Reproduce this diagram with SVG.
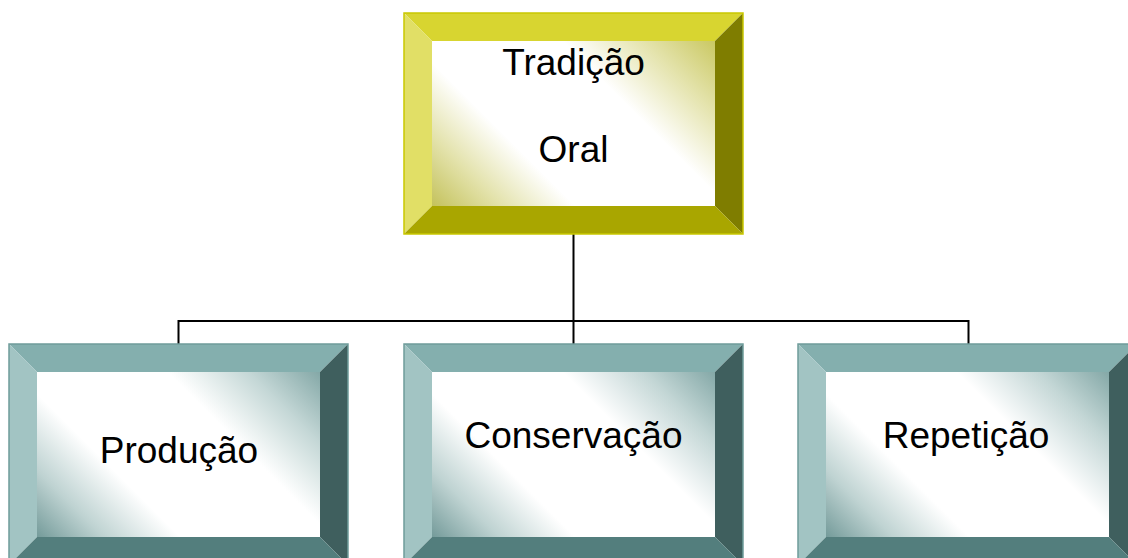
<svg xmlns="http://www.w3.org/2000/svg" width="1128" height="558" viewBox="0 0 1128 558">
<style>
.lbl{font-family:"Liberation Sans",Arial,sans-serif;font-size:37px;fill:#000;text-anchor:middle}
.conn{stroke:#000;stroke-width:2;fill:none}
.y .t{fill:#D8D530}.y .l{fill:#E1DF66}.y .r{fill:#7F7D00}.y .b{fill:#A9A600}
.y .o{fill:none;stroke:#C9C700;stroke-width:1.5}.y .i{fill:url(#gy)}
.g .t{fill:#84AFAE}.g .l{fill:#A2C4C3}.g .r{fill:#3F5F5E}.g .b{fill:#537E7D}
.g .o{fill:none;stroke:#6F9C9B;stroke-width:1.5}.g .i{fill:url(#gg)}
</style>
<defs>
<linearGradient id="gg" gradientUnits="userSpaceOnUse" x1="281.5" y1="-1.5" x2="57.5" y2="222.5">
<stop offset="0" stop-color="#84A8A7"/>
<stop offset="0.16" stop-color="#C4D7D6"/>
<stop offset="0.34" stop-color="#FFFFFF"/>
<stop offset="0.68" stop-color="#FFFFFF"/>
<stop offset="0.85" stop-color="#BFD3D2"/>
<stop offset="1" stop-color="#749B9A"/>
</linearGradient>
<linearGradient id="gy" gradientUnits="userSpaceOnUse" x1="281.5" y1="-1.5" x2="57.5" y2="222.5">
<stop offset="0" stop-color="#CAC862"/>
<stop offset="0.16" stop-color="#E4E3AC"/>
<stop offset="0.34" stop-color="#FFFFFF"/>
<stop offset="0.68" stop-color="#FFFFFF"/>
<stop offset="0.85" stop-color="#E2E1A8"/>
<stop offset="1" stop-color="#C4C25C"/>
</linearGradient>
</defs>
<rect width="1128" height="558" fill="#fff"/>
<g id="connectors">
<line class="conn" x1="573.5" y1="234" x2="573.5" y2="344"/>
<polyline class="conn" points="178.5,344 178.5,321 968.5,321 968.5,344"/>
</g>
<g id="node-tradicao" class="y" transform="translate(404,13)">
<rect class="i" x="28" y="28" width="283" height="165"/>
<polygon class="t" points="0,0 339,0 311,28 28,28"/>
<polygon class="l" points="0,0 28,28 28,193 0,221"/>
<polygon class="r" points="339,0 339,221 311,193 311,28"/>
<polygon class="b" points="0,221 28,193 311,193 339,221"/>
<rect class="o" x="0" y="0" width="339" height="221"/>
<text class="lbl" x="169.5" y="62">Tradição</text>
<text class="lbl" x="169.5" y="149">Oral</text>
</g>
<g id="node-producao" class="g" transform="translate(9,344)">
<rect class="i" x="28" y="28" width="283" height="165"/>
<polygon class="t" points="0,0 339,0 311,28 28,28"/>
<polygon class="l" points="0,0 28,28 28,193 0,221"/>
<polygon class="r" points="339,0 339,221 311,193 311,28"/>
<polygon class="b" points="0,221 28,193 311,193 339,221"/>
<rect class="o" x="0" y="0" width="339" height="221"/>
<text class="lbl" x="170" y="119">Produção</text>
</g>
<g id="node-conservacao" class="g" transform="translate(404,344)">
<rect class="i" x="28" y="28" width="283" height="165"/>
<polygon class="t" points="0,0 339,0 311,28 28,28"/>
<polygon class="l" points="0,0 28,28 28,193 0,221"/>
<polygon class="r" points="339,0 339,221 311,193 311,28"/>
<polygon class="b" points="0,221 28,193 311,193 339,221"/>
<rect class="o" x="0" y="0" width="339" height="221"/>
<text class="lbl" x="169.5" y="104">Conservação</text>
</g>
<g id="node-repeticao" class="g" transform="translate(798,344)">
<rect class="i" x="28" y="28" width="283" height="165"/>
<polygon class="t" points="0,0 339,0 311,28 28,28"/>
<polygon class="l" points="0,0 28,28 28,193 0,221"/>
<polygon class="r" points="339,0 339,221 311,193 311,28"/>
<polygon class="b" points="0,221 28,193 311,193 339,221"/>
<rect class="o" x="0" y="0" width="339" height="221"/>
<text class="lbl" x="168" y="104">Repetição</text>
</g>
</svg>
